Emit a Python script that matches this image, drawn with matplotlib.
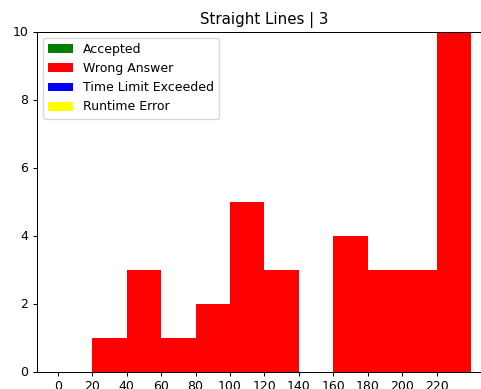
import matplotlib
matplotlib.use("Agg")
import matplotlib.pyplot as plt
import numpy as np

bin_edges = [0, 20, 40, 60, 80, 100, 120, 140, 160, 180, 200, 220, 240]
accepted = [0, 0, 0, 0, 0, 0, 0, 0, 0, 0, 0, 0]
wrong_answer = [0, 1, 3, 1, 2, 5, 3, 0, 4, 3, 3, 10]
time_limit = [0, 0, 0, 0, 0, 0, 0, 0, 0, 0, 0, 0]
runtime_error = [0, 0, 0, 0, 0, 0, 0, 0, 0, 0, 0, 0]

labels = ['Accepted', 'Wrong Answer', 'Time Limit Exceeded', 'Runtime Error']
colors = ['green', 'red', 'blue', 'yellow']
series = [accepted, wrong_answer, time_limit, runtime_error]

dpi = 90
fig = plt.figure(figsize=(482 / dpi, 389 / dpi), dpi=dpi)
ax = fig.add_axes([37 / 482, 17.5 / 389, 455 / 482, 340 / 389])

left = bin_edges[:-1]
width = np.diff(bin_edges)
bottom = np.zeros(len(left))
for vals, lab, col in zip(series, labels, colors):
    ax.bar(left, vals, width=width, align='edge', bottom=bottom,
           color=col, label=lab, linewidth=0)
    bottom += np.array(vals)

ax.set_xticks(range(0, 221, 20))
ax.set_xlim(-12, 252)
ax.set_ylim(0, 10)
ax.set_title('Straight Lines | 3', fontsize=12)
ax.legend(loc='upper left', fontsize=10)

fig.savefig('out.png', dpi=dpi)
